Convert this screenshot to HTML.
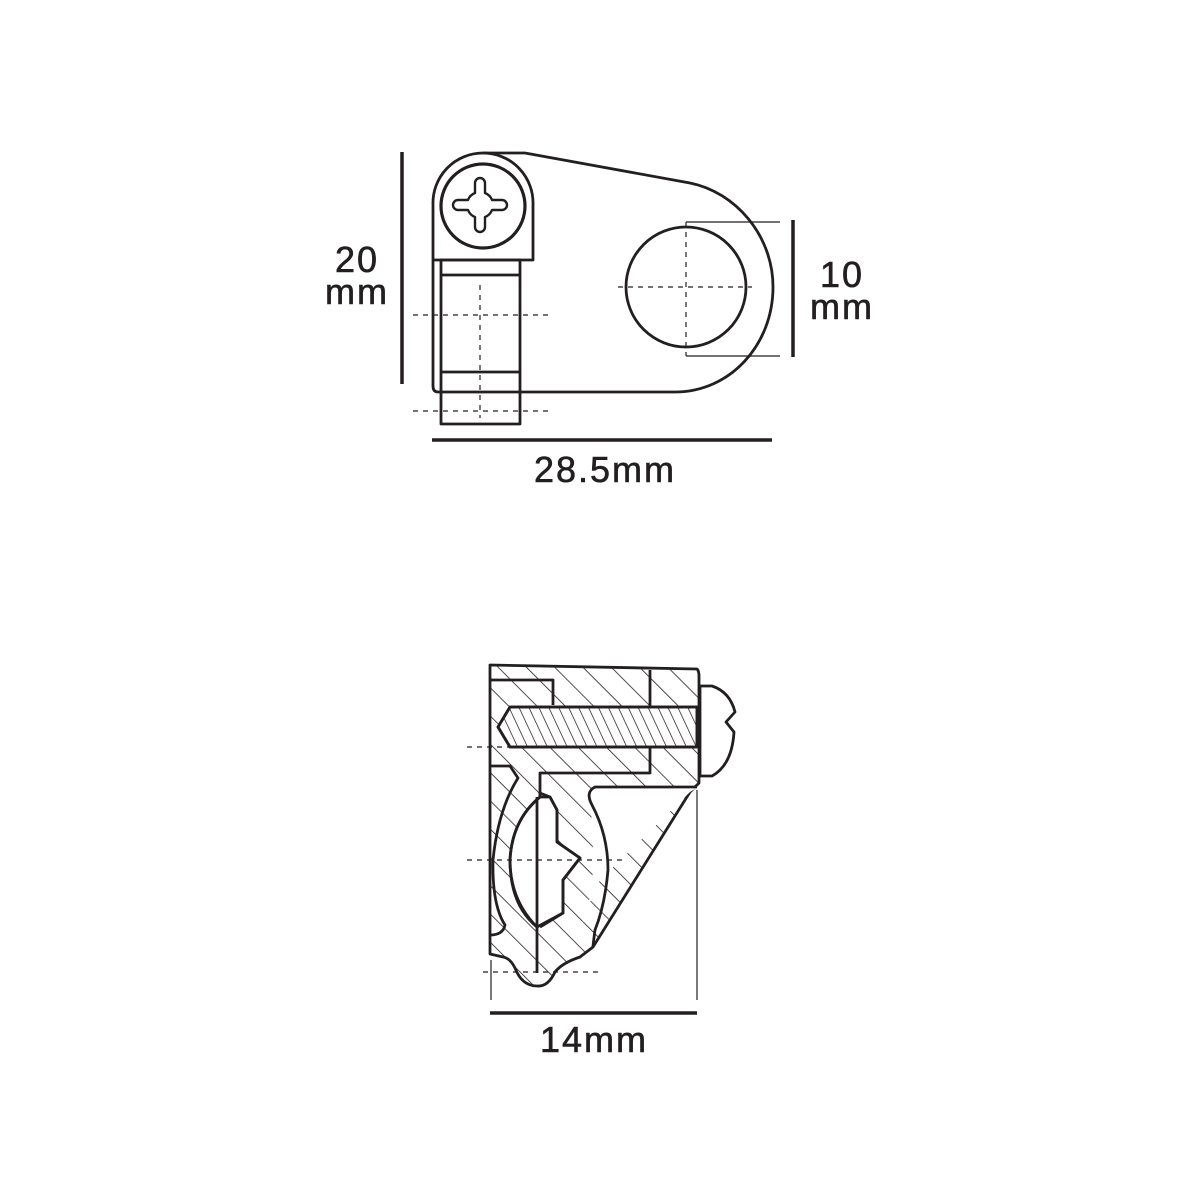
<!DOCTYPE html>
<html><head><meta charset="utf-8"><style>
html,body{margin:0;padding:0;background:#fff;}
svg{display:block}
text{font-family:"Liberation Sans",sans-serif;font-size:36px;fill:#231f20;letter-spacing:2px;stroke:#231f20;stroke-width:0.6}
</style></head><body>
<svg width="1200" height="1200" viewBox="0 0 1200 1200" xmlns="http://www.w3.org/2000/svg">
<defs>
<pattern id="h1" width="20" height="20" patternUnits="userSpaceOnUse" patternTransform="rotate(-45)">
<line x1="0" y1="0" x2="0" y2="20" stroke="#231f20" stroke-width="1.6"/></pattern>
<pattern id="h2" width="9" height="9" patternUnits="userSpaceOnUse" patternTransform="rotate(-25)">
<line x1="0" y1="0" x2="0" y2="9" stroke="#231f20" stroke-width="1.5"/></pattern>
</defs>
<g fill="none" stroke="#231f20" stroke-width="2.8" stroke-linejoin="round">
<!-- TOP -->
<line x1="402" y1="152" x2="402" y2="384" stroke-width="3.5"/>
<path d="M433,386 L433,205 A50,50 0 0 1 483,153 L525,153 L690,183 C735,192 773,235 773,287 C773,345 730,392 675,392 L438,392 Q433,392 433,386 Z"/>
<path d="M433,260 L533,260 L533,205 A50,50 0 0 0 483,153"/>
<circle cx="483" cy="206" r="42" stroke-width="3.2"/>
<path d="M475,193 L475,183 A5,5 0 0 1 485,183 L485,193 A12,12 0 0 1 492,200 L502,200 A5,5 0 0 1 502,210 L492,210 A12,12 0 0 1 485,217 L485,227 A5,5 0 0 1 475,227 L475,217 A12,12 0 0 1 468,210 L458,210 A5,5 0 0 1 458,200 L468,200 A12,12 0 0 1 475,193 Z" stroke-width="2.4"/>
<rect x="441" y="260" width="79" height="164"/>
<line x1="441" y1="275" x2="520" y2="275"/>
<line x1="441" y1="372" x2="520" y2="372"/>
<circle cx="686" cy="287" r="60"/>
<line x1="686" y1="222" x2="780" y2="222" stroke-width="1.2"/>
<line x1="686" y1="356" x2="780" y2="356" stroke-width="1.2"/>
<line x1="793" y1="220" x2="793" y2="357" stroke-width="3.5"/>
<line x1="432" y1="440" x2="772" y2="440" stroke-width="3.5"/>
<g stroke-width="1.2" stroke-dasharray="5,5">
<line x1="686" y1="222" x2="686" y2="356"/>
<line x1="618" y1="287" x2="752" y2="287"/>
<line x1="480" y1="285" x2="480" y2="418"/>
<line x1="413" y1="315" x2="548" y2="315"/>
<line x1="413" y1="411" x2="548" y2="411"/>
</g>
<!-- BOTTOM -->
<path d="M490,665 L697,669 Q699,671 699,676 L699,783 L690,792 L593,947 L580,957 Q562,963 555,972 Q548,987 537,986 Q522,986 515,968 Q510,958 503,957 L490,954 Z" fill="url(#h1)"/>
<path d="M698,787 L595,787 Q588,790 590,800 Q593,830 593,860 Q593,900 580,930 Q588,905 600,880 L690,792 Z" fill="#fff" stroke="none"/>
<path d="M540,793 L540,797 Q512,820 510,860 Q510,900 537,927 L563,913 L563,880 L580,858 L557,842 L557,810 L550,797 Z" fill="#fff"/>
<path d="M510,707 L697,707 L697,747 L510,747 L498,727 Z" fill="#fff"/>
<path d="M510,707 L697,707 L697,747 L510,747 L498,727 Z" fill="url(#h2)"/>
<path d="M490,680 L553,680 L553,705"/>
<line x1="650" y1="670" x2="650" y2="707"/>
<path d="M650,747 L650,773 L540,773 L540,797"/>
<path d="M697,787 L595,787 Q585,792 592,805 Q608,835 608,870 Q605,905 595,930 Q593,945 593,947"/>
<path d="M540,797 Q512,820 510,860 Q510,905 537,927"/>
<path d="M490,766 L510,766 L518,778 Q498,810 493,860 Q492,905 505,925 Q503,935 490,935"/>
<path d="M540,797 L550,797 L557,810 L557,842 L580,858 L563,880 L563,913 L540,927"/>
<line x1="537" y1="797" x2="537" y2="973"/>
<path d="M700,686 L712,686 Q730,692 735,712 L726,722 L734,732 Q732,765 712,776 L700,776 Z" fill="#fff"/>
<line x1="491" y1="960" x2="491" y2="1000" stroke-width="1.2"/>
<line x1="697" y1="790" x2="697" y2="1000" stroke-width="1.2"/>
<line x1="490" y1="1013" x2="697" y2="1013" stroke-width="3.5"/>
<g stroke-width="1.2" stroke-dasharray="5,5">
<line x1="467" y1="747" x2="512" y2="747"/>
<line x1="467" y1="860" x2="627" y2="860"/>
<line x1="483" y1="972" x2="598" y2="972"/>
</g>
</g>
<text x="357" y="272" text-anchor="middle">20</text>
<text x="357" y="304" text-anchor="middle">mm</text>
<text x="842" y="287" text-anchor="middle">10</text>
<text x="842" y="319" text-anchor="middle">mm</text>
<text x="605" y="482" text-anchor="middle">28.5mm</text>
<text x="594" y="1052" text-anchor="middle">14mm</text>
</svg>
</body></html>
